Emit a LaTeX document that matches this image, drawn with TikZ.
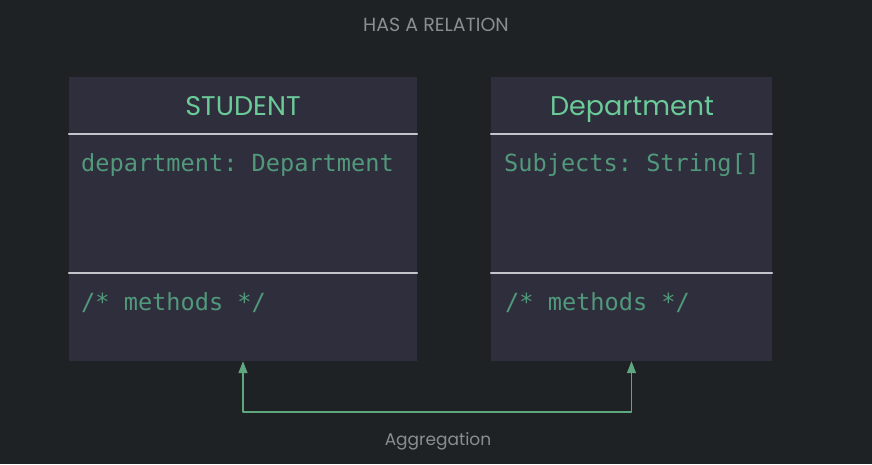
\documentclass[tikz,border=0pt]{standalone}
\usepackage{fontspec}
\setmainfont{Poppins}
\setmonofont{DejaVu Sans Mono}
\usetikzlibrary{arrows.meta}
\definecolor{bgcol}{HTML}{1F2225}
\definecolor{boxcol}{HTML}{2E2E3C}
\definecolor{headcol}{HTML}{6BCB98}
\definecolor{attrcol}{HTML}{52987B}
\definecolor{rulecol}{HTML}{C4C4CC}
\definecolor{linkcol}{HTML}{5FA77F}
\definecolor{captcol}{HTML}{8A8D91}

\begin{document}
\begin{tikzpicture}[line cap=round,line join=round,x=1pt,y=-1pt,
  classbox/.style={fill=boxcol,draw=none,minimum height=284pt,inner sep=0pt},
  classname/.style={anchor=base,text=headcol,font=\fontsize{27}{32}\selectfont},
  member/.style={anchor=base west,inner sep=0pt,text=attrcol,font=\ttfamily\fontsize{23.6}{28}\selectfont},
  divider/.style={draw=rulecol,line width=1.6pt},
  caption/.style={anchor=base,text=captcol,font=\fontsize{17}{20}\selectfont},
  link/.style={draw=linkcol,line width=1.3pt,{Triangle[length=12pt,width=9pt]}-{Triangle[length=12pt,width=9pt]}}]
\fill[bgcol] (0,0) rectangle (872,464);
\useasboundingbox (0,0) rectangle (872,464);
% title
\node[caption,font=\fontsize{19}{22}\selectfont] (title) at (436,31) {HAS A RELATION};
% classes
\node[classbox,minimum width=348pt] (stu) at (243,219) {};
\node[classbox,minimum width=281pt] (dep) at (631.5,219) {};
\foreach \b in {stu,dep}{
  \draw[divider] ([yshift=-57pt]\b.north west) -- ([yshift=-57pt]\b.north east);
  \draw[divider] ([yshift=-196pt]\b.north west) -- ([yshift=-196pt]\b.north east);
}
\node[classname] (stuname) at (243,115) {STUDENT};
\node[classname] (depname) at (632,115) {Department};
\node[member] (stuattr) at (81,171) {department: Department};
\node[member] (stumeth) at (81,310) {/* methods */};
\node[member] (depattr) at (504,171) {Subjects: String[]};
\node[member] (depmeth) at (505,310) {/* methods */};
% aggregation
\coordinate (aggmid) at (437,412);
\draw[link] (stu.south) |- (aggmid) -| (dep.south);
\node[caption] (agg) at (438,445) {Aggregation};
\end{tikzpicture}
\end{document}
